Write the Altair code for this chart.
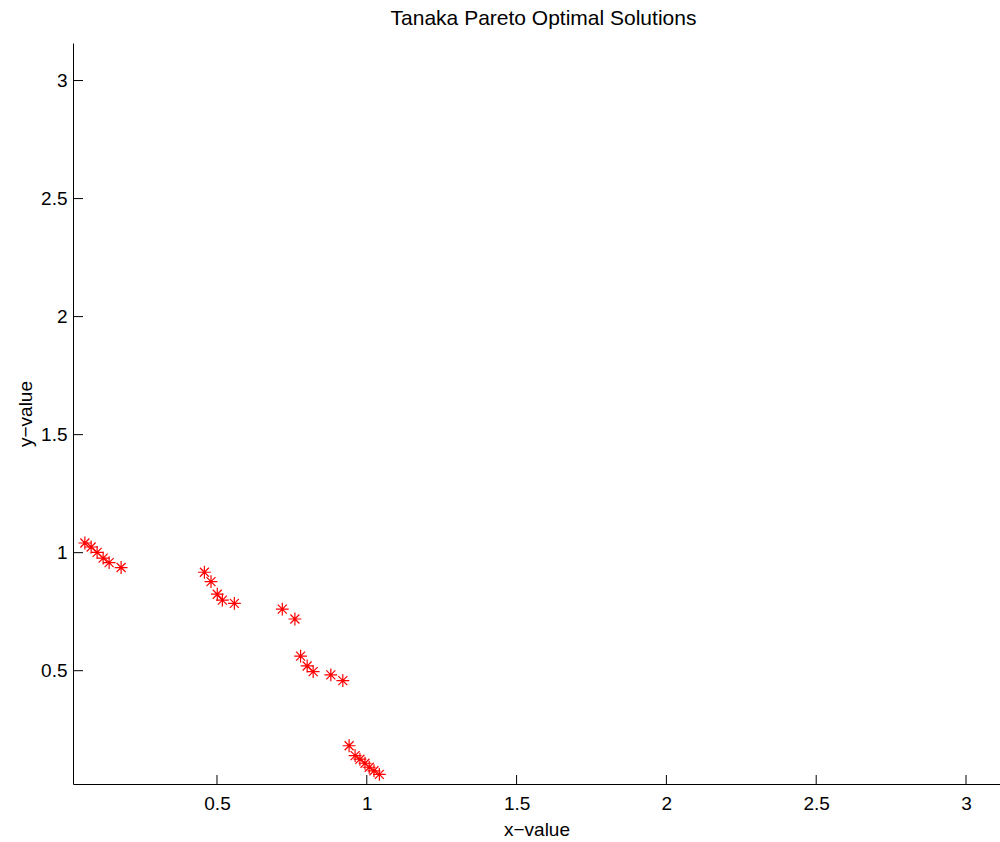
import altair as alt
import pandas as pd

# Pareto-optimal points
x_vals = [0.059, 0.080, 0.100, 0.120, 0.140, 0.180,
          0.458, 0.480, 0.501, 0.518, 0.558,
          0.718, 0.760,
          0.779, 0.801, 0.821, 0.880, 0.920,
          0.941, 0.961, 0.977, 0.994, 1.008, 1.024, 1.042]
y_vals = [1.041, 1.024, 1.001, 0.977, 0.958, 0.937,
          0.917, 0.877, 0.824, 0.799, 0.785,
          0.761, 0.719,
          0.562, 0.520, 0.496, 0.482, 0.458,
          0.182, 0.140, 0.125, 0.108, 0.091, 0.076, 0.061]

x_ticks = [0.5, 1, 1.5, 2, 2.5, 3]
y_ticks = [0.5, 1, 1.5, 2, 2.5, 3]

X_DOMAIN = [0.0194, 3.1135]
Y_DOMAIN = [0.02, 3.159]
W, H = 927, 741
FONT = "Liberation Sans"
FS = 19

df = pd.DataFrame({"x": x_vals, "y": y_vals})
xt = pd.DataFrame({"x": x_ticks})
yt = pd.DataFrame({"y": y_ticks})

xs = alt.Scale(domain=X_DOMAIN, nice=False, zero=False)
ys = alt.Scale(domain=Y_DOMAIN, nice=False, zero=False)

ASTERISK = ("M-1,0L1,0M0,-1L0,1M-0.7,-0.7L0.7,0.7M-0.7,0.7L0.7,-0.7")

axis_common = dict(grid=False, ticks=False, domainColor="black", domainWidth=1,
                   labelFont=FONT, labelFontSize=FS, labelColor="black",
                   titleFont=FONT, titleFontSize=FS, titleFontWeight="normal",
                   titleColor="black", format="~g", labelFlush=False,
                   labelOverlap=False)

x_axis = alt.Axis(values=x_ticks, title="x\u2212value", labelPadding=10,
                  titleY=45, titleBaseline="middle", **axis_common)
y_axis = alt.Axis(values=y_ticks, title="y\u2212value", labelPadding=6,
                  titleX=-48, titleBaseline="middle", **axis_common)

points = alt.Chart(df).mark_point(
    shape=ASTERISK, filled=False, color="#ff0000", strokeWidth=1.2, size=165, opacity=1
).encode(
    x=alt.X("x:Q", scale=xs, axis=x_axis),
    y=alt.Y("y:Q", scale=ys, axis=y_axis),
)

xtick_rules = alt.Chart(xt).mark_rule(color="black", strokeWidth=1).encode(
    x=alt.X("x:Q", scale=xs, axis=x_axis),
    y=alt.value(H),
    y2=alt.value(H - 9),
)
ytick_rules = alt.Chart(yt).mark_rule(color="black", strokeWidth=1).encode(
    y=alt.Y("y:Q", scale=ys, axis=y_axis),
    x=alt.value(0),
    x2=alt.value(10),
)

chart = alt.layer(points, xtick_rules, ytick_rules).properties(
    width=W, height=H,
    background="white",
    title=alt.TitleParams("Tanaka Pareto Optimal Solutions", font=FONT,
                          fontSize=21, fontWeight="normal", color="black",
                          anchor="middle", offset=14, dx=7),
    autosize=alt.AutoSizeParams(type="none"),
    padding={"left": 73, "top": 43, "right": 0, "bottom": 58},
).configure_view(stroke=None)

chart.save("out.html", embed_options={"renderer": "svg", "actions": False})
